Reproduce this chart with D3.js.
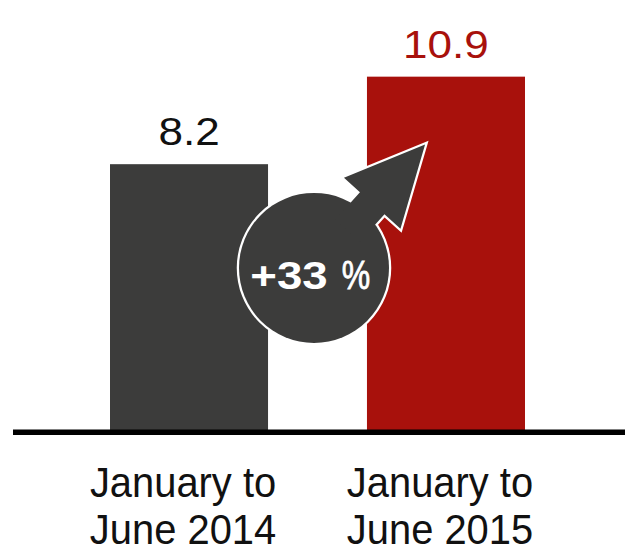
<!DOCTYPE html>
<html>
<head>
<meta charset="utf-8">
<script src="https://cdn.jsdelivr.net/npm/d3@7"></script>
<style>
  html, body { margin: 0; padding: 0; background: #fff; }
  svg { display: block; }
</style>
</head>
<body>
<main></main>
<script>
const categories = ['2014', '2015'];
const values = [8.2, 10.9];
const valueLabels = ['8.2', '10.9'];
const categoryLines = [
  ['January to', 'June 2014'],
  ['January to', 'June 2015'],
];
const barColors = ['#3c3c3b', '#a8110c'];
const valueColors = ['#111111', '#a8110c'];

const dimensions = {
  width: 625,
  height: 553,
  baseline: 430,
  top: 41,
  barLeft: 110,
  barRight: 525,
};

const xScale = d3
  .scaleBand()
  .domain(categories)
  .range([dimensions.barLeft, dimensions.barRight])
  .paddingInner(0.385)
  .paddingOuter(0);

const yScale = d3
  .scaleLinear()
  .domain([0, 12])
  .range([dimensions.baseline, dimensions.top]);

const svg = d3
  .select('main')
  .append('svg')
  .attr('width', dimensions.width)
  .attr('height', dimensions.height)
  .style('font-family', '"Liberation Sans", Arial, sans-serif');

// bars
svg
  .append('g')
  .selectAll('rect')
  .data(values)
  .join('rect')
  .attr('x', (d, i) => xScale(categories[i]))
  .attr('y', d => yScale(d))
  .attr('width', xScale.bandwidth())
  .attr('height', d => yScale(0) - yScale(d))
  .attr('fill', (d, i) => barColors[i]);

// value labels
svg
  .append('g')
  .selectAll('text')
  .data(values)
  .join('text')
  .attr(
    'transform',
    (d, i) =>
      `translate(${xScale(categories[i]) + xScale.bandwidth() / 2} ${yScale(d) - 19}) scale(1.13 1)`
  )
  .attr('text-anchor', 'middle')
  .attr('font-size', 39)
  .attr('fill', (d, i) => valueColors[i])
  .text((d, i) => valueLabels[i]);

// baseline axis
svg
  .append('line')
  .attr('x1', 13)
  .attr('x2', dimensions.width)
  .attr('y1', yScale(0) + 2.3)
  .attr('y2', yScale(0) + 2.3)
  .attr('stroke', '#000')
  .attr('stroke-width', 5.6);

// category labels
const catGroup = svg
  .append('g')
  .selectAll('g')
  .data(categories)
  .join('g');

catGroup
  .selectAll('text')
  .data((d, i) => categoryLines[i].map(line => ({ cat: d, line })))
  .join('text')
  .attr(
    'transform',
    (d, j) =>
      `translate(${xScale(d.cat) + xScale.bandwidth() / 2 - 6} ${yScale(0) + 67 + j * 47}) scale(0.95 1)`
  )
  .attr('text-anchor', 'middle')
  .attr('font-size', 42)
  .attr('fill', '#111')
  .text(d => d.line);

// change badge: circle with arrow (male symbol shape)
const change = Math.round(((values[1] - values[0]) / values[0]) * 100);
const gapMid =
  (xScale(categories[0]) + xScale.bandwidth() + xScale(categories[1])) / 2;
const badge = svg
  .append('g')
  .attr('transform', `translate(${gapMid - 3.5} ${yScale(5)})`);

const radius = 75;
const arrowPoints = [
  [50, -16.5],
  [87, -16.5],
  [87, -38],
  [166, 0],
  [87, 38],
  [87, 16.5],
  [50, 16.5],
];
const arrowPath = d3.line()(arrowPoints) + 'Z';

const drawShape = (sel, outline) => {
  sel
    .append('circle')
    .attr('r', radius)
    .attr('fill', '#3c3c3b')
    .attr('stroke', outline ? '#fff' : 'none')
    .attr('stroke-width', 4.5);
  sel
    .append('path')
    .attr('transform', 'rotate(-48)')
    .attr('d', arrowPath)
    .attr('fill', '#3c3c3b')
    .attr('stroke', outline ? '#fff' : 'none')
    .attr('stroke-width', 4.5)
    .attr('stroke-linejoin', 'miter');
};

drawShape(badge.append('g'), true);
drawShape(badge.append('g'), false);

badge
  .append('text')
  .attr('transform', 'translate(-25 21) scale(1.2 1)')
  .attr('text-anchor', 'middle')
  .attr('font-size', 38)
  .attr('font-weight', 'bold')
  .attr('fill', '#fff')
  .text(`+${change}`);

badge
  .append('text')
  .attr('transform', 'translate(42 21) scale(0.8 1)')
  .attr('text-anchor', 'middle')
  .attr('font-size', 40)
  .attr('fill', '#fff')
  .attr('stroke', '#fff')
  .attr('stroke-width', 0.8)
  .text('%');
</script>
</body>
</html>
